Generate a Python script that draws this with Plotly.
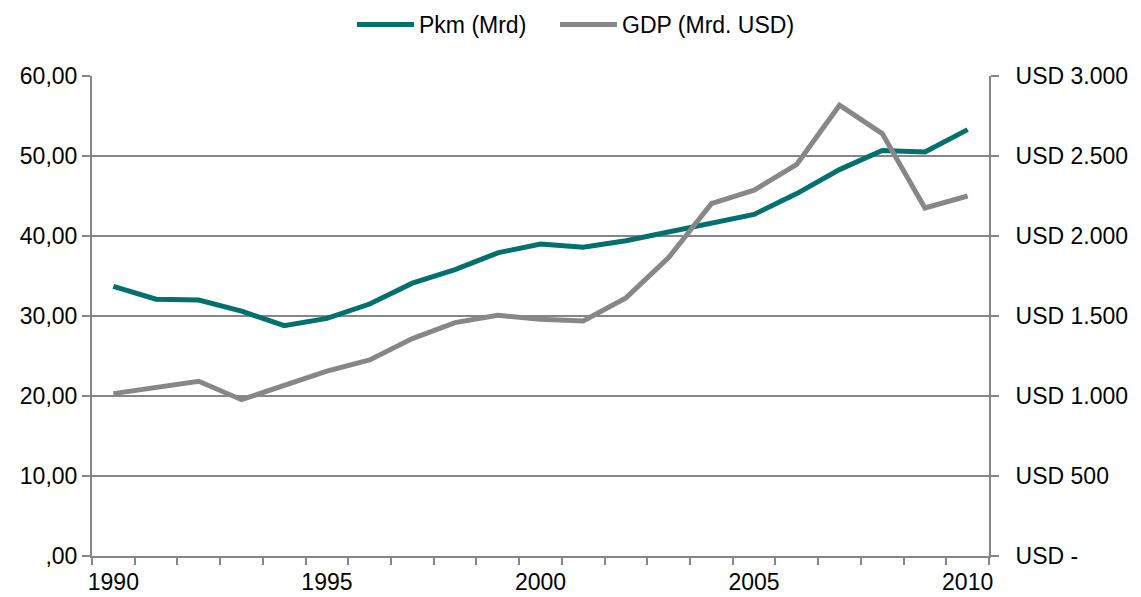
import plotly.graph_objects as go

# Yearly series
years = list(range(1990, 2011))
pkm_mrd = [33.7, 32.1, 32.0, 30.6, 28.8, 29.7, 31.5, 34.1, 35.8, 37.9, 39.0,
           38.6, 39.4, 40.5, 41.7, 42.7, 45.3, 48.3, 50.7, 50.5, 53.3]
gdp_mrd_usd = [1015, 1056, 1092, 977, 1067, 1156, 1225, 1359, 1459, 1504, 1479,
               1469, 1613, 1865, 2202, 2286, 2448, 2817, 2640, 2175, 2250]

# Axis ticks
left_tickvals = [0, 10, 20, 30, 40, 50, 60]
left_ticktext = [",00", "10,00", "20,00", "30,00", "40,00", "50,00", "60,00"]
right_tickvals = [0, 500, 1000, 1500, 2000, 2500, 3000]
right_ticktext = ["USD -", "USD 500", "USD 1.000", "USD 1.500", "USD 2.000",
                  "USD 2.500", "USD 3.000"]
x_label_years = [1990, 1995, 2000, 2005, 2010]

TEAL = "#00706E"
GREY = "#878787"
AXIS = "#868686"
FONT = "Liberation Sans, Arial, sans-serif"
FS = 23

fig = go.Figure()
fig.add_trace(go.Scatter(x=years, y=pkm_mrd, name="Pkm (Mrd)", mode="lines",
                         line=dict(color=TEAL, width=5), yaxis="y", legend="legend"))
fig.add_trace(go.Scatter(x=years, y=gdp_mrd_usd, name="GDP (Mrd. USD)", mode="lines",
                         line=dict(color=GREY, width=5), yaxis="y2", legend="legend2"))

legend_common = dict(orientation="h", xref="container", yref="container",
                     xanchor="left", y=0.995, yanchor="top",
                     font=dict(size=FS), itemwidth=57, bgcolor="rgba(0,0,0,0)")

fig.update_layout(
    width=1141, height=597,
    margin=dict(l=92, r=152, t=76, b=41),
    paper_bgcolor="white", plot_bgcolor="white",
    font=dict(family=FONT, size=FS, color="#000000"),
    showlegend=True,
    legend=dict(x=352 / 1141, **legend_common),
    legend2=dict(x=555 / 1141, **legend_common),
    xaxis=dict(range=[1989.5, 2010.5], tickmode="array", tickvals=x_label_years,
               ticktext=[str(y) for y in x_label_years], ticks="", showgrid=False,
               showline=True, linecolor=AXIS, linewidth=2, zeroline=False,
               ticklabelstandoff=4, automargin=False,
               minor=dict(tickmode="array",
                          tickvals=[y - 0.5 for y in years] + [years[-1] + 0.5],
                          ticks="outside", ticklen=7, tickwidth=2, tickcolor=AXIS,
                          showgrid=False),
               tickfont=dict(size=FS)),
    yaxis=dict(range=[0, 60], tickmode="array", tickvals=left_tickvals,
               ticktext=left_ticktext, ticks="outside", ticklen=8, tickwidth=2,
               tickcolor=AXIS, showgrid=True, gridcolor=AXIS, gridwidth=2,
               showline=True, linecolor=AXIS, linewidth=2, zeroline=False,
               automargin=False, tickfont=dict(size=FS)),
    yaxis2=dict(range=[0, 3000], tickmode="array", tickvals=right_tickvals,
                ticktext=right_ticktext, overlaying="y", side="right",
                ticks="outside", ticklen=8, tickwidth=2, tickcolor=AXIS,
                ticklabelstandoff=12, automargin=False,
                showgrid=False, showline=True, linecolor=AXIS, linewidth=2,
                zeroline=False, tickfont=dict(size=FS)),
)

fig.write_html("out.html")
